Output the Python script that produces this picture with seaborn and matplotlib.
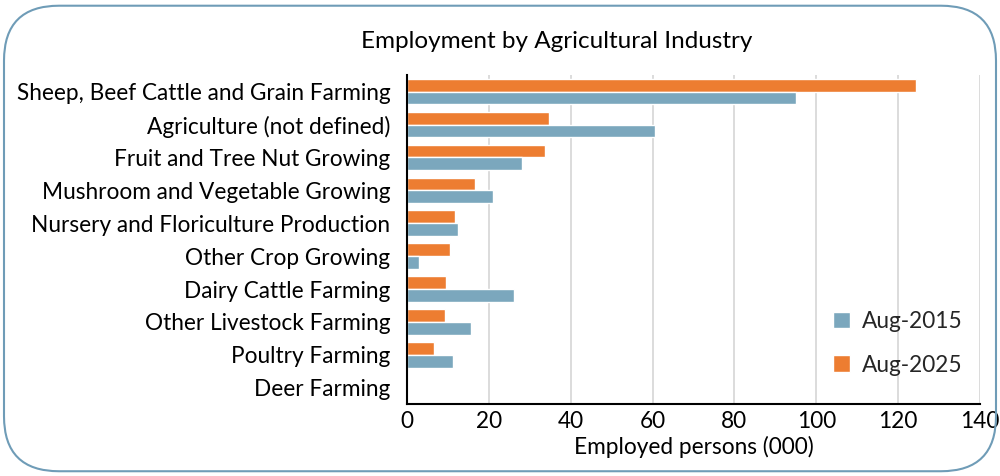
import matplotlib
matplotlib.use("Agg")
import matplotlib.pyplot as plt
from matplotlib.patches import FancyBboxPatch, Patch
from matplotlib.ticker import FixedLocator
import seaborn as sns
import pandas as pd
import numpy as np

categories = [
    "Sheep, Beef Cattle and Grain Farming",
    "Agriculture (not defined)",
    "Fruit and Tree Nut Growing",
    "Mushroom and Vegetable Growing",
    "Nursery and Floriculture Production",
    "Other Crop Growing",
    "Dairy Cattle Farming",
    "Other Livestock Farming",
    "Poultry Farming",
    "Deer Farming",
]
aug_2025 = [124.3, 34.6, 33.6, 16.5, 11.7, 10.4, 9.5, 9.2, 6.5, 0.0]
aug_2015 = [95.0, 60.7, 28.0, 21.1, 12.4, 2.9, 26.1, 15.6, 11.2, 0.0]
series_names = ["Aug-2025", "Aug-2015"]
x_ticks = [0, 20, 40, 60, 80, 100, 120, 140]

df = pd.DataFrame({
    "Industry": categories * 2,
    "Value": aug_2025 + aug_2015,
    "Period": [series_names[0]] * len(categories) + [series_names[1]] * len(categories),
})

sns.set_theme(style="white")
plt.rcParams["font.family"] = ["Lato", "DejaVu Sans"]

orange = "#ED7D31"
blue = "#7BA7BD"
fs = 16.3

fig = plt.figure(figsize=(10, 4.76), dpi=100)
ax = fig.add_axes([0.407, 0.151, 0.573, 0.691])

sns.barplot(data=df, y="Industry", x="Value", hue="Period", order=categories,
            hue_order=series_names, palette={"Aug-2025": orange, "Aug-2015": blue},
            orient="h", width=0.78, ax=ax, legend=False, saturation=1)

ax.set_xlim(0, 140)
ax.set_ylim(len(categories) - 0.5, -0.5)
ax.set_xticks(x_ticks)
ax.set_xticklabels([str(t) for t in x_ticks], fontsize=fs, color="black")
ax.tick_params(axis="x", direction="in", length=6, width=1.5, color="black", pad=5)
ax.tick_params(axis="y", which="major", length=0, labelsize=fs, labelcolor="black", pad=12)
ax.yaxis.set_minor_locator(FixedLocator(np.arange(-0.5, len(categories), 1.0)))
ax.tick_params(axis="y", which="minor", direction="in", length=7, width=1.5, color="black")
ax.set_ylabel("")
ax.set_xlabel("Employed persons (000)", fontsize=fs, color="black", labelpad=3)

ax.grid(axis="x", color="#d9d9d9", linewidth=1.3)
ax.set_axisbelow(True)
for s in ["top", "right"]:
    ax.spines[s].set_visible(False)
for s in ["left", "bottom"]:
    ax.spines[s].set_color("black")
    ax.spines[s].set_linewidth(1.5)

handles = [Patch(facecolor=blue, label="Aug-2015"), Patch(facecolor=orange, label="Aug-2025")]
ax.legend(handles=handles, loc="lower right", bbox_to_anchor=(1.005, 0.025), frameon=False,
          fontsize=fs, handlelength=0.75, handleheight=0.75, labelspacing=1.0, handletextpad=0.5)

fig.text(0.557, 0.912, "Employment by Agricultural Industry", ha="center", va="center",
         fontsize=17.5, color="black")

border = FancyBboxPatch((0.004, 0.01), 0.992, 0.978, boxstyle="round,pad=0,rounding_size=0.055",
                        transform=fig.transFigure, facecolor="none", edgecolor="#6f9cb7",
                        linewidth=1.5, mutation_aspect=2.1)
fig.patches.append(border)

fig.savefig("out.png", dpi=100)
